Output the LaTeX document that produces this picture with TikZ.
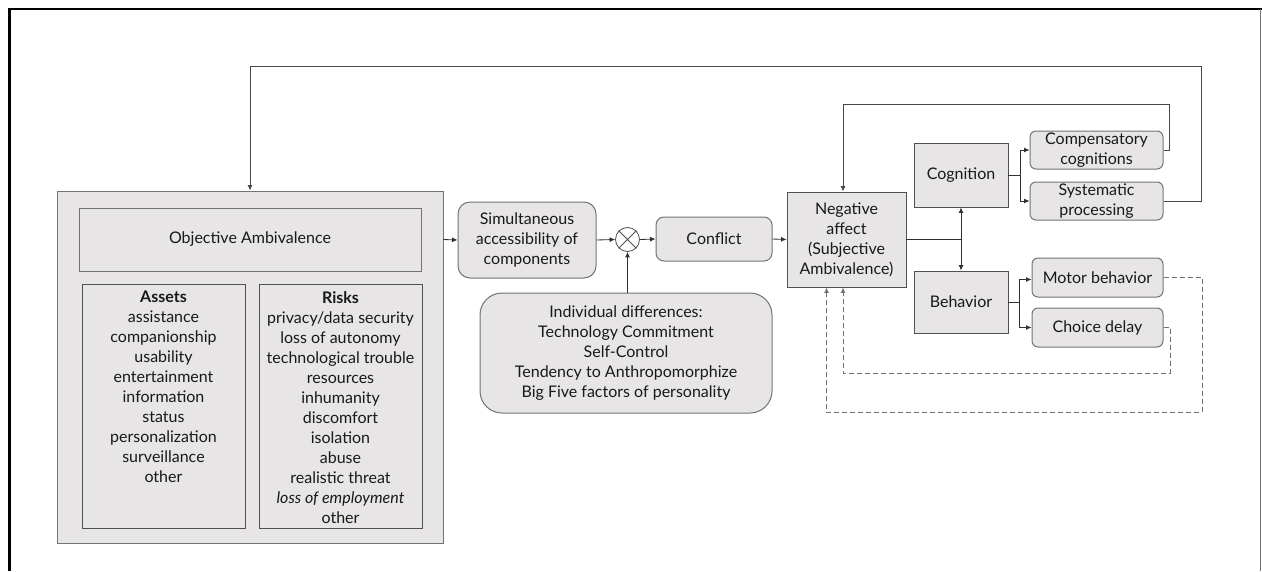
\documentclass[tikz,border=0pt]{standalone}
\usepackage{fontspec}
\setmainfont{Lato}
\usetikzlibrary{arrows.meta}
\definecolor{boxfill}{RGB}{231,229,230}
\definecolor{boxline}{RGB}{80,80,80}
\definecolor{softline}{RGB}{115,115,115}
\definecolor{ink}{RGB}{25,25,25}
\begin{document}
\begin{tikzpicture}[x=1pt,y=-1pt,
  font=\fontsize{16}{20}\selectfont, text=ink,
  sqbox/.style={draw=boxline, fill=boxfill, line width=0.9pt, inner sep=0pt, align=center},
  rbox/.style={draw=softline, fill=boxfill, line width=1pt, rounded corners=7pt, inner sep=0pt, align=center},
  txt/.style={inner sep=0pt, align=center},
  link/.style={draw=ink!90, line width=0.85pt},
  tip/.tip={Latex[length=5.5pt,width=5pt]},
  arr/.style={link, -tip},
  twoway/.style={link, tip-tip},
  fbdash/.style={draw=softline, line width=0.9pt, dash pattern=on 5pt off 3pt, -tip}
]
\useasboundingbox (0,0) rectangle (1262,571);

% page frame
\draw[black, line width=2.2pt] (9.5,571) -- (9.5,9) -- (1262,9);
\draw[softline, line width=1.2pt] (1260.8,9) -- (1260.8,571);

% objective ambivalence block
\node[sqbox, draw=softline, minimum width=386pt, minimum height=352pt] (outer) at (250,367) {};
\node[sqbox, draw=softline, minimum width=342pt, minimum height=63pt] (obj) at (250,239.5) {Objective Ambivalence};
\node[sqbox, minimum width=163pt, minimum height=244pt] (assets) at (163.5,406) {};
\node[sqbox, minimum width=163pt, minimum height=244pt] (risks) at (340.5,406) {};
\node[txt, anchor=north] (assetlist) at (163.5,291) {\textbf{Assets}\\assistance\\companionship\\usability\\entertainment\\information\\status\\personalization\\surveillance\\other};
\node[txt, anchor=north] (risklist) at (340.5,291) {\textbf{Risks}\\privacy/data security\\loss of autonomy\\technological trouble\\resources\\inhumanity\\discomfort\\isolation\\abuse\\realistic threat\\\textit{loss of employment}\\other};

% middle chain
\node[rbox, rounded corners=12pt, minimum width=138pt, minimum height=76pt] (simul) at (527,240) {Simultaneous\\accessibility of\\components};
\node[draw=boxline, fill=white, circle, line width=0.8pt, minimum size=24pt, inner sep=0pt] (mix) at (627.5,239.5) {};
\draw[boxline, line width=0.8pt] (mix.north west) -- (mix.south east) (mix.north east) -- (mix.south west);
\node[rbox, rounded corners=8pt, minimum width=116pt, minimum height=44pt] (conflict) at (714,239) {Conflict};
\node[rbox, rounded corners=22pt, minimum width=292pt, minimum height=120pt] (indiv) at (626,353) {Individual differences:\\Technology Commitment\\Self-Control\\Tendency to Anthropomorphize\\Big Five factors of personality};

% affect, cognition and behavior
\node[sqbox, minimum width=119pt, minimum height=95pt] (neg) at (846.5,239.5) {Negative\\affect\\(Subjective\\Ambivalence)};
\node[sqbox, minimum width=94pt, minimum height=64pt] (cog) at (961,175) {Cognition};
\node[sqbox, minimum width=94pt, minimum height=62pt] (beh) at (961,302) {Behavior};
\node[rbox, rounded corners=6pt, minimum width=133pt, minimum height=38pt] (comp) at (1096.5,150) {Compensatory\\cognitions};
\node[rbox, rounded corners=6pt, minimum width=133pt, minimum height=38pt] (syst) at (1096.5,201) {Systematic\\processing};
\node[rbox, rounded corners=6pt, minimum width=131pt, minimum height=39pt] (motor) at (1097.5,277.5) {Motor behavior};
\node[rbox, rounded corners=6pt, minimum width=131pt, minimum height=39pt] (choice) at (1097.5,327.5) {Choice delay};

% junction points
\coordinate (cogfork) at (1020,175);
\coordinate (behfork) at (1019,302);
\coordinate (outerloop) at (1201,66);
\coordinate (innerloop) at (1169,104);
\coordinate (motorloop) at (1202,412);
\coordinate (choiceloop) at (1170,373);

% forward connectors
\draw[arr] (outer.east |- obj.east) -- (simul.west);
\draw[arr] (simul.east) -- (mix.west);
\draw[arr] (mix.east) -- (conflict.west);
\draw[arr] (conflict.east) -- (neg.west);
\draw[arr] (mix |- indiv.north) -- (mix.south);
\draw[link] (neg.east) -- (neg.east -| cog.south);
\draw[twoway] (cog.south) -- (beh.north);
\draw[link] (cog.east) -- (cogfork);
\draw[arr] (cogfork) |- (comp.west);
\draw[arr] (cogfork) |- (syst.west);
\draw[link] (beh.east) -- (behfork);
\draw[arr] (behfork) |- ([yshift=-2pt]motor.west);
\draw[arr] (behfork) |- (choice.west);

% feedback loops
\draw[arr, draw=ink!80] (syst.east) -| (outerloop) -| (outer.north);
\draw[arr, draw=ink!80] (comp.east) -| (innerloop) -| ([xshift=-3.5pt]neg.north);
\draw[fbdash] (motor.east) -| (motorloop) -| ([xshift=-20pt]neg.south);
\draw[fbdash] (choice.east) -| (choiceloop) -| ([xshift=-3.5pt]neg.south);
\end{tikzpicture}
\end{document}
